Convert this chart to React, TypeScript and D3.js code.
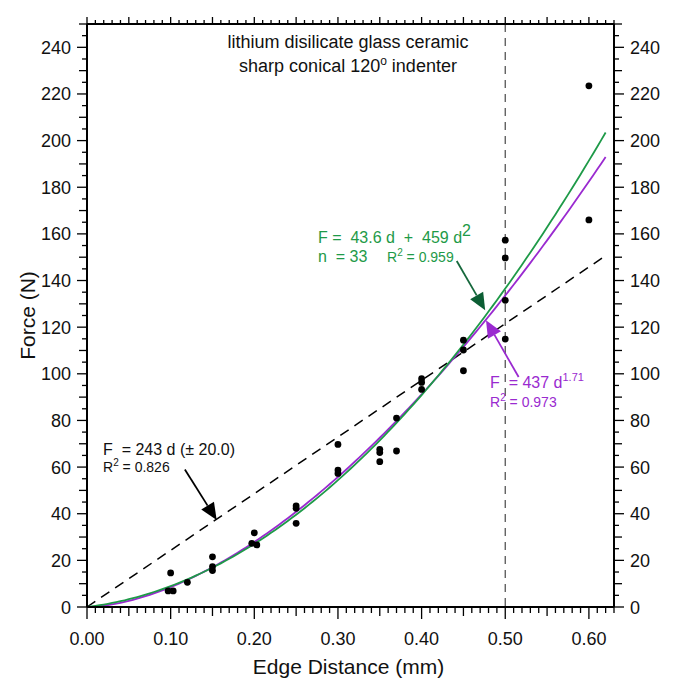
import React from "react";
import * as d3 from "d3";

// measured points (edge distance mm, force N)
const edgeDistance = [0.097, 0.103, 0.1, 0.12, 0.15, 0.15, 0.15, 0.2, 0.197, 0.203, 0.25, 0.25, 0.25, 0.3, 0.3, 0.3, 0.35, 0.35, 0.35, 0.37, 0.37, 0.4, 0.4, 0.4, 0.45, 0.45, 0.45, 0.5, 0.5, 0.5, 0.5, 0.6, 0.6];
const force = [6.9, 6.9, 14.6, 10.6, 21.5, 17.3, 15.6, 31.8, 27.3, 26.6, 43.4, 42.3, 35.9, 69.7, 58.7, 57.3, 67.6, 66.2, 62.3, 81.0, 66.9, 97.9, 96.3, 93.3, 114.4, 110.2, 101.3, 157.3, 149.7, 131.5, 114.9, 223.5, 166.0];

// fit coefficients as printed on the chart
const linearSlope = 243;
const polyCoef = [43.6, 459];
const powerCoef = [437, 1.71];
const fitMaxD = 0.62;

const xTickLabels = ["0.00", "0.10", "0.20", "0.30", "0.40", "0.50", "0.60"];
const yTickLabels = [0, 20, 40, 60, 80, 100, 120, 140, 160, 180, 200, 220, 240];

const W = 674, H = 693;
const FONT = "Liberation Sans, Arial, sans-serif";
const GREEN = "#1e9a48";
const PURPLE = "#9a2ad0";

function Arrow({ x1, y1, x2, y2, color, head }: any) {
  const dx = x2 - x1, dy = y2 - y1;
  const len = Math.sqrt(dx * dx + dy * dy);
  const ux = dx / len, uy = dy / len;
  const L = 17, w = 7.5;
  const bx = x2 - ux * L, by = y2 - uy * L;
  const pts = [[x2, y2], [bx - uy * w, by + ux * w], [bx + uy * w, by - ux * w]];
  return (
    <g>
      <line x1={x1} y1={y1} x2={bx} y2={by} stroke={color} strokeWidth={1.8} />
      <polygon points={pts.map(p => p.join(",")).join(" ")} fill={head || color} />
    </g>
  );
}

export default function App() {
  const x = d3.scaleLinear().domain([0, 0.63]).range([87, 614]);
  const y = d3.scaleLinear().domain([0, 250]).range([607, 24]);

  const dGrid = d3.range(0, fitMaxD + 0.0001, 0.005);
  const line = d3.line<number[]>().x(p => x(p[0])).y(p => y(p[1]));
  const polyPath = line(dGrid.map(d => [d, polyCoef[0] * d + polyCoef[1] * d * d]));
  const powerPath = line(dGrid.map(d => [d, powerCoef[0] * Math.pow(d, powerCoef[1])]));
  const linPath = line([[0, 0], [fitMaxD, linearSlope * fitMaxD]]);

  const xMinor = d3.range(0, 64).map(i => i / 100);
  const yMinor = d3.range(0, 51).map(i => i * 5);

  const x0 = x(0), x1 = x(0.63), yb = y(0), yt = y(250);

  return (
    <svg width={W} height={H} style={{ position: "absolute", left: 0, top: 0, background: "#fff" }} fontFamily={FONT}>
      {/* fits */}
      <line x1={x(0.5)} x2={x(0.5)} y1={yt} y2={yb} stroke="#555" strokeWidth={1.3} strokeDasharray="8,6" />
      <path d={linPath!} fill="none" stroke="#000" strokeWidth={1.5} strokeDasharray="10,7" />
      <path d={powerPath!} fill="none" stroke={PURPLE} strokeWidth={1.8} />
      <path d={polyPath!} fill="none" stroke={GREEN} strokeWidth={1.8} />

      {/* points */}
      {edgeDistance.map((d, i) => (
        <circle key={i} cx={x(d)} cy={y(force[i])} r={3.4} fill="#000" />
      ))}

      {/* frame */}
      <g stroke="#000" strokeWidth={2} fill="none">
        <line x1={x0} x2={x1} y1={yb} y2={yb} />
        <line x1={x0} x2={x1} y1={yt} y2={yt} />
        <line x1={x0} x2={x0} y1={yt} y2={yb} />
        <line x1={x1} x2={x1} y1={yt} y2={yb} />
      </g>
      <g stroke="#000" strokeWidth={1.3}>
        {xMinor.map((v, i) => {
          const major = i % 10 === 0, mid = i % 5 === 0;
          const lb = major ? 12 : mid ? 9 : 6;
          const lt = mid ? 7 : 4;
          return (
            <g key={i}>
              <line x1={x(v)} x2={x(v)} y1={yb} y2={yb + lb} />
              <line x1={x(v)} x2={x(v)} y1={yt} y2={yt - lt} />
            </g>
          );
        })}
        {yMinor.map((v, i) => {
          const l = v % 20 === 0 ? 10 : v % 10 === 0 ? 8 : 5;
          return (
            <g key={i}>
              <line x1={x0} x2={x0 - l} y1={y(v)} y2={y(v)} />
              <line x1={x1} x2={x1 + l} y1={y(v)} y2={y(v)} />
            </g>
          );
        })}
      </g>
      <g fontSize={18} fill="#111">
        {yTickLabels.map(v => (
          <g key={v}>
            <text x={x0 - 16} y={y(v) + 6.5} textAnchor="end">{v}</text>
            <text x={x1 + 16} y={y(v) + 6.5} textAnchor="start">{v}</text>
          </g>
        ))}
        {xTickLabels.map(t => (
          <text key={t} x={x(+t)} y={645} textAnchor="middle">{t}</text>
        ))}
      </g>
      <text x={x((0 + 0.63) / 2) - 2} y={674} fontSize={21} textAnchor="middle" fill="#111">Edge Distance (mm)</text>
      <text transform={`translate(35,${(yt + yb) / 2}) rotate(-90)`} fontSize={21} textAnchor="middle" fill="#111">Force (N)</text>

      {/* title */}
      <g fontSize={18} fill="#111" textAnchor="middle">
        <text x={348} y={48}>lithium disilicate glass ceramic</text>
        <text x={348} y={72}>sharp conical 120<tspan dy={-7} fontSize={12}>o</tspan><tspan dy={7}> indenter</tspan></text>
      </g>

      {/* linear fit label */}
      <text x={103} y={455} fontSize={16} fill="#111" xmlSpace="preserve">F  = 243 d (± 20.0)</text>
      <text x={103} y={472} fontSize={14} fill="#111">R<tspan dy={-6} fontSize={10}>2</tspan><tspan dy={6}> = 0.826</tspan></text>
      <Arrow x1={x(0.117)} y1={y(59)} x2={x(0.155)} y2={y(37.3)} color="#000" />

      {/* polynomial label */}
      <text x={318} y={243} fontSize={16} fill={GREEN} xmlSpace="preserve">F =  43.6 d  +  459 d<tspan dy={-7} fontSize={16}>2</tspan></text>
      <text x={318} y={262} fontSize={16} fill={GREEN} xmlSpace="preserve">n  = 33</text>
      <text x={387} y={262} fontSize={14} fill={GREEN}>R<tspan dy={-6} fontSize={10}>2</tspan><tspan dy={6}> = 0.959</tspan></text>
      <Arrow x1={x(0.442)} y1={y(148.4)} x2={x(0.476)} y2={y(127.3)} color="#16683c" head="#0c5e34" />

      {/* power label */}
      <text x={490} y={388} fontSize={16} fill={PURPLE} xmlSpace="preserve">F  = 437 d<tspan dy={-7} fontSize={11}>1.71</tspan></text>
      <text x={490} y={407} fontSize={14} fill={PURPLE}>R<tspan dy={-6} fontSize={10}>2</tspan><tspan dy={6}> = 0.973</tspan></text>
      <Arrow x1={x(0.516)} y1={y(98.6)} x2={x(0.477)} y2={y(123)} color={PURPLE} />
    </svg>
  );
}
